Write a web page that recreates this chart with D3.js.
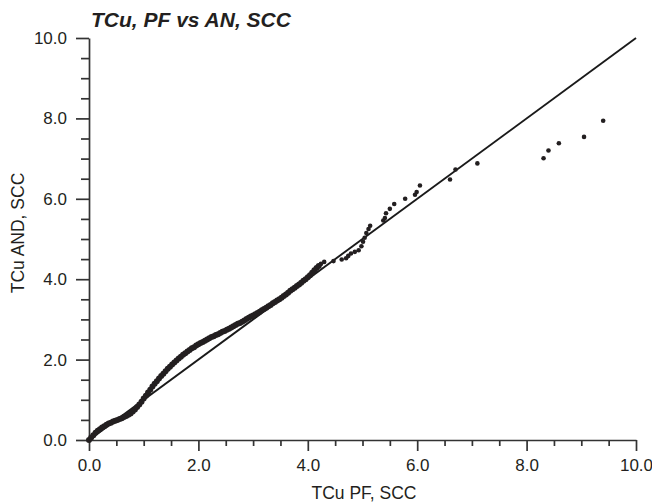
<!DOCTYPE html>
<html>
<head>
<meta charset="utf-8">
<script src="https://cdn.jsdelivr.net/npm/d3@7"></script>
<style>
    body { margin: 0; background: #fff; }
    svg text { font-family: "Liberation Sans", Arial, Helvetica, sans-serif; fill: #231f20; }
    .axis path, .axis line { stroke: #333; stroke-width: 1.7; }
    .axis text { font-size: 17px; }
</style>
</head>
<body>
<div class="wrapper-svg"></div>
<script>
// dense part of the quantile curve (TCu PF, TCu AND)
var pfDense = [0.00,0.04,0.08,0.12,0.16,0.20,0.24,0.28,0.32,0.36,0.40,0.44,0.48,0.52,0.56,0.60,0.64,0.68,0.72,0.76,
    0.80,0.84,0.88,0.92,0.96,1.00,1.04,1.08,1.12,1.16,1.20,1.24,1.28,1.32,1.36,1.40,1.44,1.48,1.52,1.56,
    1.60,1.64,1.68,1.72,1.76,1.80,1.84,1.88,1.92,1.96,2.00,2.04,2.08,2.12,2.16,2.20,2.24,2.28,2.32,2.36,
    2.40,2.44,2.48,2.52,2.56,2.60,2.64,2.68,2.72,2.76,2.80,2.84,2.88,2.92,2.96,3.00,3.04,3.08,3.12,3.16,
    3.20,3.24,3.28,3.32,3.36,3.40,3.44,3.48,3.52,3.56,3.60,3.64,3.68,3.72,3.76,3.80,3.84,3.88,3.92,3.96,
    4.00,4.04,4.08,4.12,4.16,4.20];
var andDense = [0.00,0.06,0.12,0.18,0.23,0.27,0.31,0.34,0.38,0.41,0.43,0.46,0.48,0.50,0.52,0.54,0.57,0.60,0.63,0.66,
    0.71,0.76,0.82,0.88,0.95,1.03,1.10,1.18,1.25,1.33,1.40,1.46,1.53,1.59,1.65,1.71,1.77,1.82,1.88,1.93,
    1.98,2.03,2.07,2.12,2.16,2.20,2.24,2.28,2.31,2.35,2.38,2.41,2.44,2.47,2.50,2.53,2.56,2.58,2.61,2.63,
    2.66,2.69,2.71,2.74,2.77,2.80,2.83,2.86,2.89,2.91,2.94,2.97,3.01,3.04,3.07,3.10,3.13,3.16,3.19,3.23,
    3.26,3.29,3.33,3.36,3.40,3.43,3.47,3.50,3.54,3.58,3.62,3.66,3.71,3.75,3.79,3.83,3.87,3.91,3.96,4.00,
    4.05,4.10,4.16,4.22,4.28,4.33];

// sparse upper tail
var pfTail = [4.24,4.30,4.47,4.62,4.70,4.74,4.79,4.86,4.93,4.98,5.01,5.04,5.07,5.11,5.14,
    5.38,5.41,5.43,5.50,5.58,5.78,5.96,5.99,6.05,6.60,6.70,7.10,8.31,8.40,8.59,9.05,9.40];
var andTail = [4.38,4.43,4.45,4.49,4.52,4.58,4.64,4.68,4.72,4.82,4.93,5.03,5.15,5.25,5.33,
    5.46,5.52,5.64,5.75,5.87,6.00,6.10,6.17,6.33,6.48,6.73,6.88,7.01,7.20,7.38,7.54,7.94];

var majorTicks = [0, 2, 4, 6, 8, 10];
var minorTicks = [0.5,1,1.5,2.5,3,3.5,4.5,5,5.5,6.5,7,7.5,8.5,9,9.5];

var width = 652, height = 503;
var plotLeft = 89, plotRight = 636, plotTop = 38, plotBottom = 440;

var svg = d3.select('.wrapper-svg')
    .append('svg')
    .attr('width', width)
    .attr('height', height);

var x = d3.scaleLinear().domain([0, 10]).range([plotLeft, plotRight]);
var y = d3.scaleLinear().domain([0, 10]).range([plotBottom, plotTop]);

// minor ticks first, then the major axis on top
svg.append('g')
    .classed('axis', true)
    .attr('transform', 'translate(0,' + plotBottom + ')')
    .call(d3.axisBottom(x).tickValues(minorTicks).tickSize(6).tickFormat(''))
    .select('.domain').remove();

svg.append('g')
    .classed('axis', true)
    .attr('transform', 'translate(' + plotLeft + ',0)')
    .call(d3.axisLeft(y).tickValues(minorTicks).tickSize(8).tickFormat(''))
    .select('.domain').remove();

svg.append('g')
    .classed('axis', true)
    .attr('transform', 'translate(0,' + plotBottom + ')')
    .call(d3.axisBottom(x).tickValues(majorTicks).tickSize(11).tickSizeOuter(0).tickPadding(8).tickFormat(d3.format('.1f')));

svg.append('g')
    .classed('axis', true)
    .attr('transform', 'translate(' + plotLeft + ',0)')
    .call(d3.axisLeft(y).tickValues(majorTicks).tickSize(13).tickSizeOuter(0).tickPadding(9).tickFormat(d3.format('.1f')));

// 1:1 line
svg.append('line')
    .attr('x1', x(0))
    .attr('y1', y(0))
    .attr('x2', x(10))
    .attr('y2', y(10))
    .style('stroke', '#1a1a1a')
    .style('stroke-width', 1.9);

svg.append('g')
    .selectAll('circle')
    .data(pfDense.map(function(d, i) { return [d, andDense[i]]; }))
    .enter()
    .append('circle')
    .attr('cx', function(d) { return x(d[0]); })
    .attr('cy', function(d) { return y(d[1]); })
    .attr('r', 3.0)
    .style('fill', '#231f20');

svg.append('g')
    .selectAll('circle')
    .data(pfTail.map(function(d, i) { return [d, andTail[i]]; }))
    .enter()
    .append('circle')
    .attr('cx', function(d) { return x(d[0]); })
    .attr('cy', function(d) { return y(d[1]); })
    .attr('r', 2.3)
    .style('fill', '#231f20');

svg.append('text')
    .text('TCu, PF vs AN, SCC')
    .style('font-size', '21px')
    .style('font-weight', 'bold')
    .style('font-style', 'italic')
    .attr('x', 91)
    .attr('y', 27);

svg.append('text')
    .text('TCu PF, SCC')
    .style('font-size', '17.5px')
    .attr('text-anchor', 'middle')
    .attr('x', 364)
    .attr('y', 499);

svg.append('text')
    .text('TCu AND, SCC')
    .style('font-size', '17.5px')
    .attr('text-anchor', 'middle')
    .attr('transform', 'translate(24,233) rotate(-90)');
</script>
</body>
</html>
